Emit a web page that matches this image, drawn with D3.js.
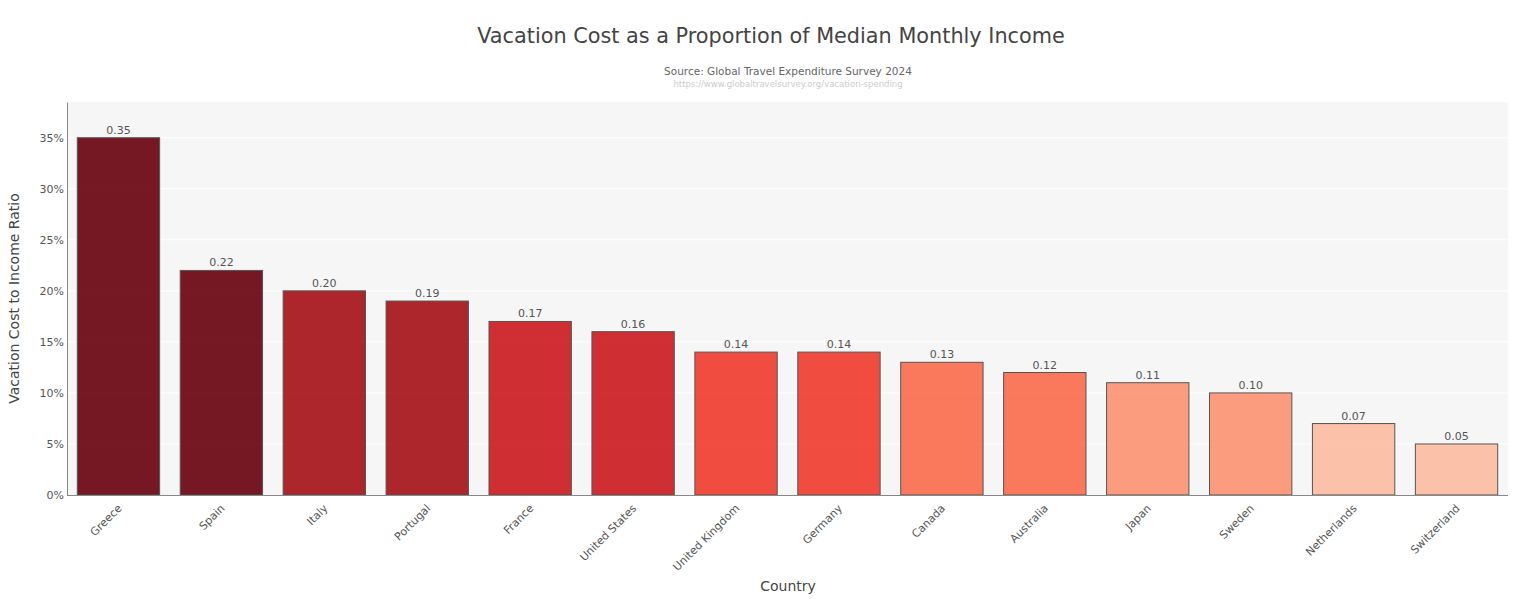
<!DOCTYPE html>
<html><head><meta charset="utf-8">
<script src="https://cdn.jsdelivr.net/npm/d3@7"></script>
<style>body{margin:0;background:#fff;}svg{display:block;font-family:"DejaVu Sans",Verdana,sans-serif;}</style>
</head><body>
<svg id="c" width="1540" height="599"></svg>
<script>
const countries = ["Greece","Spain","Italy","Portugal","France","United States","United Kingdom","Germany","Canada","Australia","Japan","Sweden","Netherlands","Switzerland"];
const ratios = [0.35,0.22,0.20,0.19,0.17,0.16,0.14,0.14,0.13,0.12,0.11,0.10,0.07,0.05];
const barColors = ["#67000d","#67000d","#a50f15","#a50f15","#cb181d","#cb181d","#ef3b2c","#ef3b2c","#fb6a4a","#fb6a4a","#fc9272","#fc9272","#fcbba1","#fcbba1"];
const yTicks = [0,0.05,0.10,0.15,0.20,0.25,0.30,0.35];

const FONT = '"DejaVu Sans",Verdana,sans-serif';
const svg = d3.select("#c");
const m = {l:67, r:1508, t:102, b:495};
const x = d3.scaleBand().domain(countries).range([m.l, m.r]).paddingInner(0.2).paddingOuter(0.1);
const y = d3.scaleLinear().domain([0, 0.385]).range([m.b, m.t]);

svg.append("rect").attr("x", m.l).attr("y", m.t).attr("width", m.r-m.l).attr("height", m.b-m.t).attr("fill", "#f6f6f6");

// grid
svg.append("g").selectAll("line").data(yTicks.slice(1)).join("line")
  .attr("x1", m.l).attr("x2", m.r).attr("y1", d=>y(d)).attr("y2", d=>y(d))
  .attr("stroke", "#fff").attr("stroke-width", 1);

// bars
svg.append("g").selectAll("rect").data(countries).join("rect")
  .attr("x", d=>x(d)).attr("width", x.bandwidth())
  .attr("y", (d,i)=>y(ratios[i])).attr("height", (d,i)=>y(0)-y(ratios[i]))
  .attr("fill", (d,i)=>barColors[i]).attr("fill-opacity", 0.9)
  .attr("stroke", "#555").attr("stroke-width", 1);

// value labels
svg.append("g").selectAll("text").data(countries).join("text")
  .attr("x", d=>x(d)+x.bandwidth()/2).attr("y", (d,i)=>y(ratios[i])-4)
  .attr("text-anchor", "middle").attr("font-size", 11).attr("fill", "#555")
  .text((d,i)=>ratios[i].toFixed(2));

// y axis
const ya = svg.append("g").attr("transform", `translate(${m.l},0)`)
  .call(d3.axisLeft(y).tickValues(yTicks).tickFormat(d3.format(".0%")).tickSize(0).tickPadding(3));
ya.select(".domain").attr("stroke", "#888");
ya.selectAll("text").attr("font-size", 11).attr("fill", "#555").attr("font-family", FONT);

// x axis
const xa = svg.append("g").attr("transform", `translate(0,${m.b})`)
  .call(d3.axisBottom(x).tickSize(0).tickPadding(0));
xa.select(".domain").attr("stroke", "#888").attr("d", `M${m.l},0.5H${m.r}`);
xa.selectAll("text").attr("font-size", 11).attr("fill", "#555").attr("font-family", FONT)
  .attr("text-anchor", "end").attr("dy", null).attr("y", 0)
  .attr("transform", "translate(4,14) rotate(-45)");

// titles
svg.append("text").attr("x", 771).attr("y", 43).attr("text-anchor", "middle").attr("font-size", 20.8).attr("fill", "#444")
  .text("Vacation Cost as a Proportion of Median Monthly Income");
svg.append("text").attr("x", 788).attr("y", 75).attr("text-anchor", "middle").attr("font-size", 10.5).attr("fill", "#666")
  .text("Source: Global Travel Expenditure Survey 2024");
svg.append("text").attr("x", 788).attr("y", 87).attr("text-anchor", "middle").attr("font-size", 8.5).attr("fill", "#ccc")
  .text("https://www.globaltravelsurvey.org/vacation-spending");
svg.append("text").attr("x", 788).attr("y", 591).attr("text-anchor", "middle").attr("font-size", 14).attr("fill", "#444")
  .text("Country");
svg.append("text").attr("transform", `translate(19,${(m.t+m.b)/2}) rotate(-90)`).attr("text-anchor", "middle").attr("font-size", 14).attr("fill", "#444")
  .text("Vacation Cost to Income Ratio");
</script>
</body></html>
